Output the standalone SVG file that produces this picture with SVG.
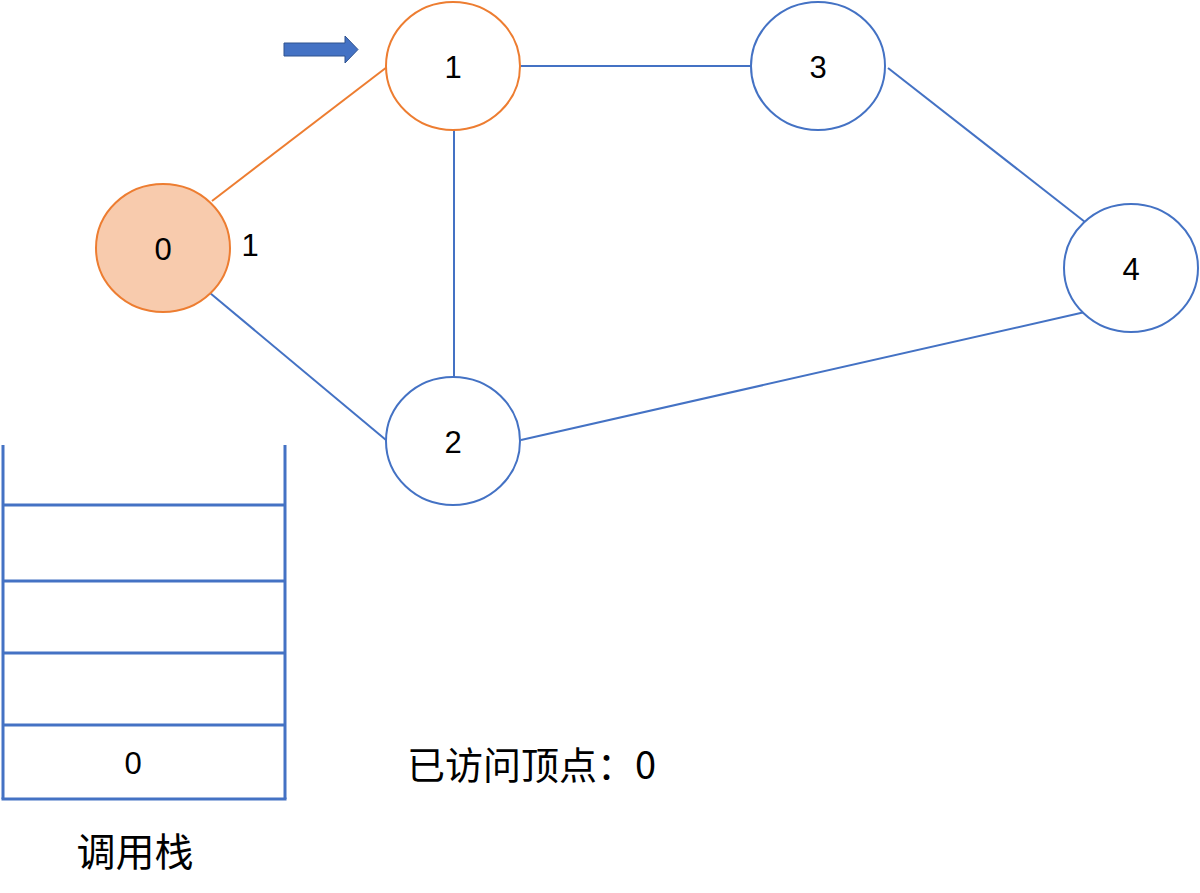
<svg xmlns="http://www.w3.org/2000/svg" width="1200" height="893" viewBox="0 0 1200 893">
<style>
.node{fill:#fff;stroke:#4472C4;stroke-width:2}
.visited{fill:#fff;stroke:#ED7D31;stroke-width:2}
.cur{fill:#F8CBAD;stroke:#ED7D31;stroke-width:2}
.edge{stroke:#4472C4;stroke-width:2;fill:none}
.oedge{stroke:#ED7D31;stroke-width:2;fill:none}
.lbl{font-family:"Liberation Sans","Noto Sans CJK SC",sans-serif;font-size:31px;fill:#000;text-anchor:middle}
.cjk{font-family:"Noto Sans CJK SC","Liberation Sans",sans-serif;fill:#000}
.stack{stroke:#4472C4;stroke-width:3;fill:none}
</style>
<rect width="1200" height="893" fill="#fff"/>
<g id="connectors">
<line class="oedge" x1="212" y1="201" x2="387" y2="67"/>
<line class="edge" x1="210" y1="293" x2="386" y2="440"/>
<line class="edge" x1="454" y1="130" x2="454" y2="377"/>
<line class="edge" x1="521" y1="66" x2="751" y2="66"/>
<line class="edge" x1="888" y1="68" x2="1085" y2="222"/>
<line class="edge" x1="521" y1="440" x2="1085" y2="312"/>
</g>
<g id="node0"><ellipse class="cur" cx="163" cy="248" rx="67" ry="64"/><text class="lbl" x="163" y="260">0</text></g>
<g id="node1"><ellipse class="visited" cx="453" cy="66" rx="67" ry="64"/><text class="lbl" x="453" y="78">1</text></g>
<g id="node2"><ellipse class="node" cx="453" cy="441" rx="67" ry="64"/><text class="lbl" x="453" y="453">2</text></g>
<g id="node3"><ellipse class="node" cx="818" cy="66" rx="67" ry="64"/><text class="lbl" x="818" y="78">3</text></g>
<g id="node4"><ellipse class="node" cx="1131" cy="268" rx="67" ry="64"/><text class="lbl" x="1131" y="280">4</text></g>
<g id="pointer"><polygon points="284,43 345,43 345,36 358,49.5 345,63 345,56 284,56" fill="#4472C4" stroke="#2F528F" stroke-width="1"/></g>
<text class="lbl" x="250" y="256" font-size="29">1</text>
<g id="callstack">
<line class="stack" x1="3" y1="445" x2="3" y2="799"/>
<line class="stack" x1="285" y1="445" x2="285" y2="799"/>
<line class="stack" x1="3" y1="505" x2="285" y2="505"/>
<line class="stack" x1="3" y1="581" x2="285" y2="581"/>
<line class="stack" x1="3" y1="653" x2="285" y2="653"/>
<line class="stack" x1="3" y1="725" x2="285" y2="725"/>
<line class="stack" x1="1.5" y1="799" x2="286.5" y2="799"/>
<text class="lbl" x="133" y="774" font-size="30">0</text>
<text class="cjk" x="135" y="866" font-size="39" text-anchor="middle">调用栈</text>
</g>
<text class="cjk" x="407" y="779" font-size="38">已访问顶点：0</text>
</svg>
